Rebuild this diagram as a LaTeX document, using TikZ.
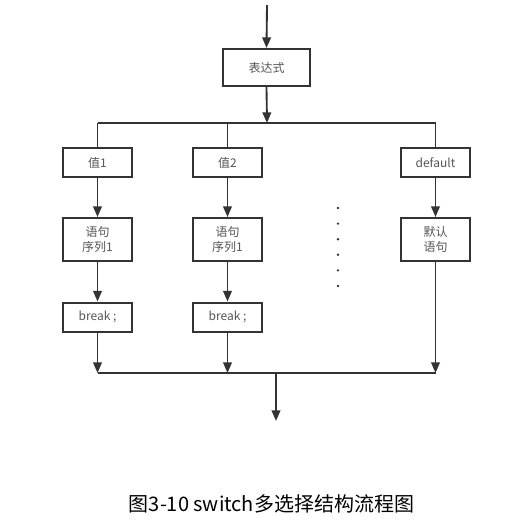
\documentclass[tikz,border=0pt]{standalone}
\usepackage{fontspec}
\setmainfont{Noto Sans CJK SC}
\usetikzlibrary{arrows.meta}
\definecolor{ln}{HTML}{333333}
\definecolor{tx}{HTML}{555555}
\begin{document}
\begin{tikzpicture}[x=0.75pt,y=-0.75pt,
  box/.style={draw=ln,line width=1.5pt,minimum width=51.75pt,minimum height=21.75pt,inner sep=0pt,font=\fontsize{9pt}{11pt}\selectfont,text=tx,align=center},
  tallbox/.style={box,minimum height=32.25pt},
  wire/.style={draw=ln,line width=1.4pt},
  arr/.style={wire,-{Triangle[length=8pt,width=6.5pt]}},
  dot/.style={circle,fill=ln,inner sep=0pt,minimum size=2pt}]
\useasboundingbox (0,0) rectangle (532,521);
% top
\coordinate (in) at (267,5);
\node[box,minimum width=65.25pt,minimum height=27.75pt] (expr) at (266.5,67.5) {表达式};
\draw[arr] (in) -- (expr.north);
\coordinate (bus) at (267,123);
\coordinate (busL) at (97.5,123);
\coordinate (busM) at (227.5,123);
\coordinate (busR) at (435.5,123);
\draw[arr] (expr.south) -- (bus);
\draw[wire] (busL) -- (busR);
% row 1
\node[box] (v1) at (97.5,162.5) {值1};
\node[box] (v2) at (227.5,162.5) {值2};
\node[box] (vd) at (435.5,162.5) {default};
\draw[wire] (busL) -- (v1.north);
\draw[wire] (busM) -- (v2.north);
\draw[wire] (busR) -- (vd.north);
% row 2
\node[tallbox] (s1) at (97.5,239.5) {语句\\序列1};
\node[tallbox] (s2) at (227.5,239.5) {语句\\序列1};
\node[tallbox] (sd) at (435.5,239.5) {默认\\语句};
\draw[arr] (v1.south) -- (s1.north);
\draw[arr] (v2.south) -- (s2.north);
\draw[arr] (vd.south) -- (sd.north);
% row 3
\node[box] (b1) at (97.5,317) {break ;};
\node[box] (b2) at (227.5,317) {break ;};
\draw[arr] (s1.south) -- (b1.north);
\draw[arr] (s2.south) -- (b2.north);
% dots
\foreach \i in {0,...,5} \node[dot] (d\i) at (338,208+\i*15.6) {};
% bottom bus
\coordinate (jL) at (97.5,373);
\coordinate (jM) at (227.5,373);
\coordinate (jR) at (435.5,373);
\coordinate (jC) at (276,373);
\coordinate (out) at (276,421);
\draw[arr] (b1.south) -- (jL);
\draw[arr] (b2.south) -- (jM);
\draw[arr] (sd.south) -- (jR);
\draw[wire] (jL) -- (jR);
\draw[arr] (jC) -- (out);
% caption
\node[font=\fontsize{15pt}{18pt}\selectfont,text=black] (cap) at (271.5,504) {图3-10 switch多选择结构流程图};
\end{tikzpicture}
\end{document}
